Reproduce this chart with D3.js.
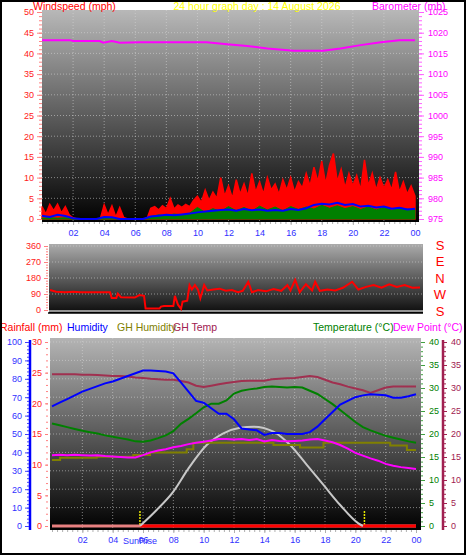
<!DOCTYPE html>
<html><head><meta charset="utf-8">
<script src="https://cdn.jsdelivr.net/npm/d3@7"></script>
<style>body{margin:0;background:#fff}svg{display:block}</style>
</head><body><svg id="c" width="466" height="555"></svg>
<script>
// ---------- DATA ----------
const hoursQ = d3.range(0, 24.001, 0.25);   // 15-minute samples
const hoursH = d3.range(0, 24.001, 0.5);    // 30-minute samples
const hourTicks = [2,4,6,8,10,12,14,16,18,20,22,24];

const windGust = [3,1.2,3.5,2,3.6,1.5,3,1,
  0.3,0,0,0,0,0,0,0,
  3.4,1,3.2,0.5,2.8,0.4,0,0,0,0,0,0,
  2.6,3,2.2,3.2,2.5,5,2.4,3.4,2.8,3.5,3,4.5,
  5.5,4,7,4.5,6.5,5,10,5.5,
  8,5,9.5,6,8.5,5.5,11,6.5,9,6,10,7,8.5,6,9.5,7,10,6.5,9,7.5,11,
  8,12.5,9,14,8.5,13,15.8,9,
  12,7.5,11,8,10.5,7,14.3,8,11,7,10,7.5,9.5,7,11.4,6.5,9,6,8,5.5];
const windAvg = [0.8,0.5,1.0,0.7,0.2,0,0,0,0.5,0.4,0,0,0,0,0.6,0.8,1.0,0.9,1.1,1.3,1.6,1.8,2.0,2.2,2.3,2.0,2.4,2.1,2.3,2.0,2.2,2.0,2.4,2.2,2.6,3.4,3.7,3.5,3.9,3.4,3.6,3.0,3.2,2.8,3.0,2.5,2.7,2.3,2.5];
const windLow = [0.2,0.3,0.2,0.3,0,0,0,0,0.1,0.1,0,0,0,0,0.6,1.0,0.8,1.2,1.0,1.4,2.8,1.6,2.5,1.8,3.0,2.0,2.8,1.9,3.1,2.2,2.9,2.0,3.0,2.3,2.9,2.4,3.3,2.6,3.2,2.5,3.0,2.3,2.9,2.2,2.8,2.1,2.7,2.4,2.2];

const baroHours  = [0,1.8,2,3.7,3.95,4.5,5,6.3,8.45,10.6,11.9,13.2,14.5,16.2,18.1,19.2,20.5,21.8,23,24];
const baroValues = [1018.2,1018.2,1018,1018,1017.6,1018,1017.6,1017.7,1017.7,1017.7,1017.2,1016.8,1016.2,1015.65,1015.65,1016.2,1017,1017.7,1018.2,1018.2];

const dirHours   = [0,0.4,1,1.5,2,3,3.9,4.0,4.3,4.4,4.6,5.5,5.8,6.1,6.2,7.1,7.2,7.4,8.0,8.1,8.3,8.5,8.6,8.9,9.05,9.2,9.4,9.6,9.75,10.0,10.2,10.6,11.0,11.4,11.8,12.2,12.5,12.86,13.1,13.5,14,14.5,15,15.4,15.6,15.9,16.2,16.6,17.0,17.2,17.5,18,18.5,19,19.6,20,20.5,21,21.5,22,22.5,23,23.5,24];
const dirDegrees = [112,103,100,103,100,100,100,68,68,92,72,70,84,80,8,8,19,22,22,79,30,6,47,52,140,115,140,115,66,140,110,115,120,108,112,100,108,159,100,112,105,118,108,140,110,169,100,145,110,159,108,115,110,125,159,115,130,140,125,145,130,140,125,126];
const dirLabels = ["S","E","N","W","S"];

const humidity = [65,67,69,71,73,74.5,76,77.5,78.5,80,81.5,83,84.5,84.5,84.3,84,83,78,73,68,67,64,61,61,58,53,52.5,52,49.5,50.5,50.5,50,50,50,51,54,58,62,66,68,70,71,71.6,71.3,71,69.7,69.7,70.5,71.6];
const temperature = [22.3,21.9,21.5,21.1,20.7,20.4,20.1,19.7,19.4,19.1,18.8,18.4,18.3,18.6,19.1,19.7,20.6,22.2,23.3,24.5,25.8,26.6,26.6,27.3,28.8,29.4,29.7,29.9,30.2,30.3,30.2,30.1,30.2,30.1,29.4,28.7,27.6,26.5,25.2,23.9,22.6,21.5,20.8,20.2,19.6,19.2,18.8,18.4,18.1];
const dewPoint = [15.4,15.5,15.4,15.5,15.4,15.3,15.4,15.2,15.1,15.0,14.9,14.9,15.4,16.0,16.4,16.7,17.1,17.4,17.8,18.1,18.3,18.6,18.9,18.9,18.8,18.9,18.7,18.9,18.4,18.7,18.5,18.4,18.5,18.6,18.8,18.9,18.6,18.2,17.6,16.8,15.9,15.3,14.7,14.2,13.5,13.1,12.8,12.6,12.4];
const ghTemp = [33.0,33.0,33.0,33.0,32.9,32.9,32.8,32.7,32.6,32.6,32.5,32.3,32.2,32.0,31.9,31.8,31.8,31.5,31.2,30.5,30.2,30.5,30.8,31.1,31.3,31.5,31.6,31.6,31.6,31.9,32.0,32.1,32.2,32.4,32.6,32.4,31.8,31.2,30.8,30.3,29.9,29.5,28.9,29.5,30.1,30.3,30.3,30.3,30.3];
const ghHumHours  = [0,0.53,2.95,5.36,6.46,8.88,9.32,14.6,16.35,17.9,22.3,23.4,24];
const ghHumValues = [35.9,37.1,37.7,38.6,40.0,41.7,45.3,44.0,42.6,45.3,43.7,41.3,41.3];
const solarHours  = [5.8,6.9,8.0,9.0,10.2,11.3,12.4,13.3,14.6,15.7,16.8,17.9,19.0,20.2,20.5];
const solarValues = [0,87,187,313,440,504,534,540,513,440,332,223,114,14,0];
const rainHours = [0,24], rainValues = [0,0];
const rainRateHours = [5.8,24], rainRateValues = [0,0];
const sunTimes = [5.8, 20.6];

// ---------- DRAW ----------
const FONT = "'Liberation Sans', Arial, Helvetica, sans-serif";
const svg = d3.select("#c").attr("font-family", FONT);
const defs = svg.append("defs");
function grad(id, top, bottom) {
  const g = defs.append("linearGradient").attr("id", id).attr("x1",0).attr("y1",0).attr("x2",0).attr("y2",1);
  g.append("stop").attr("offset","0%").attr("stop-color",top);
  g.append("stop").attr("offset","100%").attr("stop-color",bottom);
}
grad("gTop", "#b8b8b8", "#000000");
grad("gDir", "#ababab", "#0c0c0c");
grad("gBot", "#b4b4b4", "#000000");

function styleAxis(g, stroke, fill, size) {
  g.attr("font-size", size || 9).attr("font-family", FONT);
  g.selectAll(".tick line").attr("stroke", stroke);
  g.selectAll(".tick text").attr("fill", fill);
  g.select(".domain").remove();
  return g;
}
const fmtHour = d => d3.format("02")(d % 24);
const fmtInt = d3.format("d");

// ---- top chart ----
const xTop = d3.scaleLinear([0,24],[42,415]);
const yWind = d3.scaleLinear([0,50],[219,12]);
const yBaro = d3.scaleLinear([975,1025],[219,12]);
svg.append("rect").attr("x",42).attr("y",10).attr("width",377).attr("height",212).attr("fill","url(#gTop)");
const gridTop = svg.append("g").attr("stroke","#d8d8d8").attr("stroke-opacity",0.55).attr("stroke-dasharray","1,2");
gridTop.selectAll("line.h").data(d3.range(5,50,5)).join("line").attr("x1",42).attr("x2",419).attr("y1",d=>yWind(d)).attr("y2",d=>yWind(d));
gridTop.selectAll("line.v").data(hourTicks.slice(0,-1)).join("line").attr("y1",10).attr("y2",222).attr("x1",d=>xTop(d)).attr("x2",d=>xTop(d));

const gustData = hoursQ.map((h,i)=>[h,windGust[i]]);
svg.append("path").datum(gustData).attr("fill","#ff0000").attr("stroke","#ff0000").attr("stroke-width",1.5)
  .attr("d", d3.area().x(d=>xTop(d[0])).y0(yWind(0)).y1(d=>yWind(d[1])));
const lowData = hoursH.map((h,i)=>[h,windLow[i]]);
svg.append("path").datum(lowData).attr("fill","#008000").attr("stroke","#008000").attr("stroke-width",1)
  .attr("d", d3.area().x(d=>xTop(d[0])).y0(yWind(0)).y1(d=>yWind(d[1])));
const avgData = hoursH.map((h,i)=>[h,windAvg[i]]);
svg.append("path").datum(avgData).attr("fill","none").attr("stroke","#0000ff").attr("stroke-width",2)
  .attr("d", d3.line().x(d=>xTop(d[0])).y(d=>yWind(d[1])));
svg.append("path").datum(baroHours.map((h,i)=>[h,baroValues[i]])).attr("fill","none").attr("stroke","#ff00ff").attr("stroke-width",2)
  .attr("d", d3.line().x(d=>xTop(d[0])).y(d=>yBaro(d[1])));

styleAxis(svg.append("g").attr("transform","translate(42,0)").call(d3.axisLeft(yWind).tickValues(d3.range(0,51,1)).tickSize(3).tickSizeOuter(0).tickFormat("")), "#ff8080", "#ff2020");
styleAxis(svg.append("g").attr("transform","translate(42,0)").call(d3.axisLeft(yWind).tickValues(d3.range(0,51,5)).tickSize(5).tickSizeOuter(0).tickPadding(3).tickFormat(fmtInt)), "#ff8080", "#ff2020");
styleAxis(svg.append("g").attr("transform","translate(419,0)").call(d3.axisRight(yBaro).tickValues(d3.range(975,1026,1)).tickSize(3).tickSizeOuter(0).tickFormat("")), "#ff60ff", "#ff00ff");
styleAxis(svg.append("g").attr("transform","translate(419,0)").call(d3.axisRight(yBaro).tickValues(d3.range(975,1026,5)).tickSize(5).tickSizeOuter(0).tickPadding(4).tickFormat(fmtInt)), "#ff60ff", "#ff00ff");
styleAxis(svg.append("g").attr("transform","translate(0,222)").call(d3.axisBottom(xTop).tickValues(d3.range(0,24.001,1/3)).tickSize(2).tickSizeOuter(0).tickFormat("")), "#b0b0b0", "#3030ff");
styleAxis(svg.append("g").attr("transform","translate(0,222)").call(d3.axisBottom(xTop).tickValues(hourTicks).tickSize(3).tickSizeOuter(0).tickPadding(5).tickFormat(fmtHour)), "#b0b0b0", "#3030ff");

svg.append("text").attr("x",33).attr("y",10).attr("font-size",10.5).attr("fill","#ff0000").text("Windspeed (mph)");
svg.append("text").attr("x",257).attr("y",10).attr("font-size",10.5).attr("fill","#ffff00").attr("text-anchor","middle").text("24 hour graph day : 14 August 2026");
svg.append("text").attr("x",372).attr("y",10).attr("font-size",10.5).attr("fill","#ff00ff").text("Barometer (mb)");

// ---- wind direction ----
const xDir = d3.scaleLinear([0,24],[50,420]);
const yDir = d3.scaleLinear([0,360],[310,246]);
svg.append("rect").attr("x",49).attr("y",244).attr("width",374).attr("height",69).attr("fill","url(#gDir)");
svg.append("g").attr("stroke","#d0d0d0").attr("stroke-opacity",0.6).attr("stroke-dasharray","1,2")
  .selectAll("line").data([90,180,270,360]).join("line").attr("x1",49).attr("x2",423).attr("y1",d=>yDir(d)).attr("y2",d=>yDir(d));
svg.append("line").attr("x1",49).attr("x2",423).attr("y1",yDir(0)+1).attr("y2",yDir(0)+1).attr("stroke","#c0c0c0").attr("stroke-width",1.5);
svg.append("line").attr("x1",48).attr("x2",423).attr("y1",313).attr("y2",313).attr("stroke","#000").attr("stroke-width",1.5);
svg.append("path").datum(dirHours.map((h,i)=>[h,dirDegrees[i]])).attr("fill","none").attr("stroke","#ff0000").attr("stroke-width",2)
  .attr("d", d3.line().x(d=>xDir(d[0])).y(d=>yDir(d[1])));
styleAxis(svg.append("g").attr("transform","translate(48,0)").call(d3.axisLeft(yDir).tickValues(d3.range(0,361,15)).tickSize(2).tickSizeOuter(0).tickFormat("")), "#ff8080", "#ff2020");
styleAxis(svg.append("g").attr("transform","translate(48,0)").call(d3.axisLeft(yDir).tickValues([0,90,180,270,360]).tickSize(4).tickSizeOuter(0).tickPadding(3)), "#ff8080", "#ff2020");
const yDirLab = d3.scalePoint().domain(d3.range(dirLabels.length)).range([245,311]);
svg.append("g").selectAll("text").data(dirLabels).join("text")
  .attr("x",440).attr("y",(d,i)=>yDirLab(i)).attr("dy","0.36em").attr("text-anchor","middle")
  .attr("font-size",13).attr("fill","#ff0000").text(d=>d);

// ---- bottom chart ----
const xBot = d3.scaleLinear([0,24],[52,416]);
const yHum = d3.scaleLinear([0,100],[526,342]);
const yRain = d3.scaleLinear([0,30],[526,342]);
const yTemp = d3.scaleLinear([0,40],[526,342]);
const ySolar = d3.scaleLinear([0,1000],[526,342]);
svg.append("rect").attr("x",50).attr("y",338).attr("width",371).attr("height",192).attr("fill","url(#gBot)");
const gridBot = svg.append("g").attr("stroke","#d8d8d8").attr("stroke-opacity",0.55).attr("stroke-dasharray","1,2");
gridBot.selectAll("line.h").data(d3.range(10,101,10)).join("line").attr("x1",50).attr("x2",421).attr("y1",d=>yHum(d)).attr("y2",d=>yHum(d));
gridBot.selectAll("line.v").data(hourTicks.slice(0,-1)).join("line").attr("y1",338).attr("y2",530).attr("x1",d=>xBot(d)).attr("x2",d=>xBot(d));

const line2 = (arrH, arrV, ys, color, w, curve) => svg.append("path")
  .datum(arrH.map((h,i)=>[h,arrV[i]])).attr("fill","none").attr("stroke",color).attr("stroke-width",w)
  .attr("d", d3.line().curve(curve || d3.curveLinear).x(d=>xBot(d[0])).y(d=>ys(d[1])));

svg.append("g").selectAll("line").data(sunTimes).join("line")
  .attr("x1",d=>xBot(d)).attr("x2",d=>xBot(d)).attr("y1",511).attr("y2",526)
  .attr("stroke","#e8e800").attr("stroke-width",1.5).attr("stroke-dasharray","2,1");
line2(rainHours, rainValues, yRain, "#e88080", 3);
line2(rainRateHours, rainRateValues, yRain, "#ff0000", 3);
line2(solarHours, solarValues, ySolar, "#c8c8c8", 2, d3.curveMonotoneX);
line2(ghHumHours, ghHumValues, yHum, "#808000", 2, d3.curveStepAfter);
line2(hoursH, ghTemp, yTemp, "#a03050", 2);
line2(hoursH, dewPoint, yTemp, "#ff00ff", 2);
line2(hoursH, temperature, yTemp, "#008000", 2);
line2(hoursH, humidity, yHum, "#0000ff", 2);

// left axes
svg.append("line").attr("x1",30).attr("x2",30).attr("y1",340).attr("y2",530).attr("stroke","#0000ff").attr("stroke-width",2.5);
styleAxis(svg.append("g").attr("transform","translate(29,0)").call(d3.axisLeft(yHum).tickValues(d3.range(0,101,2)).tickSize(2).tickSizeOuter(0).tickFormat("")), "#4040ff", "#3030ff");
styleAxis(svg.append("g").attr("transform","translate(29,0)").call(d3.axisLeft(yHum).tickValues(d3.range(0,101,10)).tickSize(4).tickSizeOuter(0).tickPadding(3)), "#4040ff", "#3030ff");
styleAxis(svg.append("g").attr("transform","translate(48,0)").call(d3.axisLeft(yRain).tickValues(d3.range(0,31,1)).tickSize(2).tickSizeOuter(0).tickFormat("")), "#ff8080", "#ff2020");
styleAxis(svg.append("g").attr("transform","translate(48,0)").call(d3.axisLeft(yRain).tickValues(d3.range(0,31,5)).tickSize(3).tickSizeOuter(0).tickPadding(3)), "#ff8080", "#ff2020");
// right axes
styleAxis(svg.append("g").attr("transform","translate(421,0)").call(d3.axisRight(yTemp).tickValues(d3.range(0,41,1)).tickSize(2).tickSizeOuter(0).tickFormat("")), "#40a040", "#008000");
styleAxis(svg.append("g").attr("transform","translate(421,0)").call(d3.axisRight(yTemp).tickValues(d3.range(0,41,5)).tickSize(4).tickSizeOuter(0).tickPadding(4)), "#40a040", "#008000");
svg.append("line").attr("x1",443).attr("x2",443).attr("y1",340).attr("y2",530).attr("stroke","#a02050").attr("stroke-width",2.5);
styleAxis(svg.append("g").attr("transform","translate(444,0)").call(d3.axisRight(yTemp).tickValues(d3.range(0,41,1)).tickSize(2).tickSizeOuter(0).tickFormat("")), "#a02050", "#a02050");
styleAxis(svg.append("g").attr("transform","translate(444,0)").call(d3.axisRight(yTemp).tickValues(d3.range(0,41,5)).tickSize(3).tickSizeOuter(0).tickPadding(4)), "#a02050", "#a02050");
// bottom x axis
styleAxis(svg.append("g").attr("transform","translate(0,530)").call(d3.axisBottom(xBot).tickValues(d3.range(0,24.001,1/3)).tickSize(2).tickSizeOuter(0).tickFormat("")), "#b0b0b0", "#3030ff");
styleAxis(svg.append("g").attr("transform","translate(0,530)").call(d3.axisBottom(xBot).tickValues(hourTicks).tickSize(3).tickSizeOuter(0).tickPadding(4).tickFormat(fmtHour)), "#b0b0b0", "#3030ff");
svg.append("text").attr("x",xBot(sunTimes[0])).attr("y",541).attr("dy","0.36em").attr("text-anchor","middle")
  .attr("font-size",9).attr("fill","#3030ff").text("SunRise");

// bottom header
const botHeads = [["Rainfall (mm)",0,"#ff0000"],["Humidity",67,"#0000ff"],["GH Humidity",117,"#808000"],["GH Temp",173,"#a02050"],["Temperature (°C)",313,"#008000"],["Dew Point (°C)",393,"#ff00ff"]];
svg.append("g").selectAll("text").data(botHeads).join("text")
  .attr("x",d=>d[1]).attr("y",331).attr("font-size",10.5).attr("fill",d=>d[2]).text(d=>d[0]);

// outer frame
svg.append("rect").attr("x",1).attr("y",1).attr("width",464).attr("height",553).attr("fill","none").attr("stroke","#000").attr("stroke-width",2);
</script></body></html>
